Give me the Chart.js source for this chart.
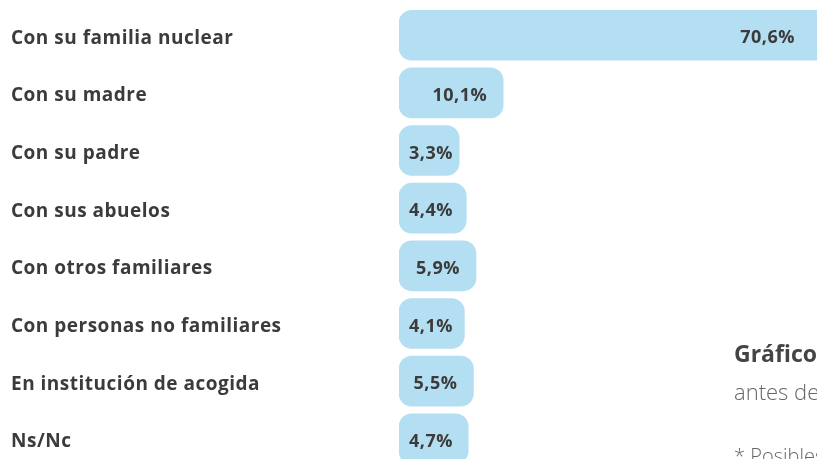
<!DOCTYPE html>
<html lang="es">
<head>
<meta charset="utf-8">
<script src="https://cdn.jsdelivr.net/npm/chart.js@4"></script>
<style>
  html, body { margin: 0; padding: 0; background: #fff; overflow: hidden; width: 817px; height: 459px; }
  #wrap { position: absolute; left: 0; top: -5px; width: 817px; height: 484px; }
  .note { position: absolute; left: 734px; white-space: nowrap; font-family: "Open Sans", sans-serif; }
  #n1 { top: 337px; font-size: 23px; font-weight: 700; color: #444; }
  #n2 { top: 376px; font-size: 22px; font-weight: 300; color: #666; }
  #n3 { top: 442px; font-size: 20px; font-weight: 300; color: #666; }
</style>
</head>
<body>
<div id="wrap"><canvas id="chart"></canvas></div>
<div class="note" id="n1">Gráfico 1.</div>
<div class="note" id="n2">antes de la</div>
<div class="note" id="n3">* Posibles</div>
<script>
const categories = [
  'Con su familia nuclear',
  'Con su madre',
  'Con su padre',
  'Con sus abuelos',
  'Con otros familiares',
  'Con personas no familiares',
  'En institución de acogida',
  'Ns/Nc',
];
const values = [70.6, 10.1, 3.3, 4.4, 5.9, 4.1, 5.5, 4.7];
const valueLabels = ['70,6%', '10,1%', '3,3%', '4,4%', '5,9%', '4,1%', '5,5%', '4,7%'];

const barColor = '#b4def1';
const textColor = '#3b3b3b';

// un poco de espaciado entre letras para parecerse a la fuente original
const spacing = {
  id: 'spacing',
  beforeDraw(chart) { chart.ctx.letterSpacing = '0.5px'; },
  afterDraw(chart) { chart.ctx.letterSpacing = '0px'; },
};

// etiquetas dentro de la barra, alineadas a la derecha
const barLabels = {
  id: 'barLabels',
  afterDatasetsDraw(chart) {
    const { ctx, chartArea } = chart;
    const meta = chart.getDatasetMeta(0);
    ctx.save();
    ctx.letterSpacing = '0.5px';
    ctx.font = '700 18px "Open Sans", sans-serif';
    ctx.fillStyle = textColor;
    ctx.textBaseline = 'middle';
    ctx.textAlign = 'left';
    meta.data.forEach((bar, i) => {
      const text = valueLabels[i];
      const w = ctx.measureText(text).width;
      const end = Math.min(bar.x, chartArea.right - 6);
      let left = end - 16 - w;
      if (left < bar.base + 10) left = bar.base + 10;
      ctx.fillText(text, left, bar.y + 3);
    });
    ctx.restore();
  },
};

new Chart(document.getElementById('chart'), {
  type: 'bar',
  data: {
    labels: categories,
    datasets: [{
      data: values,
      base: -6,
      backgroundColor: barColor,
      borderRadius: 13,
      borderSkipped: false,
      barThickness: 50,
    }],
  },
  options: {
    indexAxis: 'y',
    responsive: true,
    maintainAspectRatio: false,
    animation: false,
    layout: { padding: { left: 11, top: 6, bottom: 2, right: 0 } },
    plugins: { legend: { display: false }, tooltip: { enabled: false } },
    scales: {
      x: { display: false, min: -6, max: 58.6 },
      y: {
        grid: { display: false },
        border: { display: false },
        ticks: {
          crossAlign: 'far',
          padding: 0,
          labelOffset: 3,
          color: textColor,
          font: { family: '"Open Sans", sans-serif', size: 19, weight: '700' },
        },
        afterFit(scale) { scale.width = 388; },
      },
    },
  },
  plugins: [spacing, barLabels],
});
</script>
</body>
</html>
